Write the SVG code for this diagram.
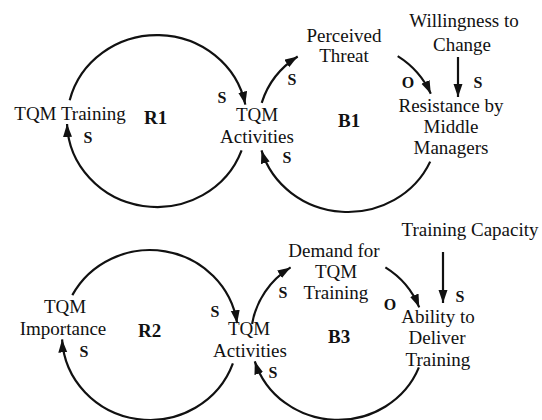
<svg xmlns="http://www.w3.org/2000/svg" width="542" height="420" viewBox="0 0 542 420">
<style>
text{font-family:"Liberation Serif","Times New Roman",serif;font-size:19px;fill:#111;text-anchor:middle}
.lp{font-weight:bold;text-anchor:start}
.sg{font-weight:bold;font-size:16px}
.c{fill:none;stroke:#111;stroke-width:2.2;marker-end:url(#ah)}
</style>
<defs>
<marker id="ah" markerUnits="userSpaceOnUse" markerWidth="14" markerHeight="10" refX="13" refY="4.5" orient="auto">
<path d="M0,0 L13,4.5 L0,9 z" fill="#111"/>
</marker>
</defs>
<rect width="542" height="420" fill="#fff"/>
<g id="connectors">
<path class="c" d="M69.7,100.2 A90 86 0 0 1 245.3,104.6"/>
<path class="c" d="M241.6,150.4 A90 86 0 0 1 67.05,124"/>
<path class="c" d="M261.7,102.9 A90 85 0 0 1 297.7,56.5"/>
<path class="c" d="M397.7,56.1 A90 85 0 0 1 430.8,93.8"/>
<path class="c" d="M430.2,161.6 A90 85 0 0 1 261.5,150.4"/>
<path class="c" d="M458,57 L458,97"/>
<path class="c" d="M72.3,295.1 A88 85 0 0 1 237.1,323.2"/>
<path class="c" d="M232.9,363.4 A88 85 0 0 1 62.1,339.4"/>
<path class="c" d="M252.1,324 A87 83 0 0 1 290.6,267.4"/>
<path class="c" d="M385.4,267.4 A87 83 0 0 1 419.2,307.3"/>
<path class="c" d="M418.9,367.4 A87 83 0 0 1 254.8,361.3"/>
<path class="c" d="M443,252 L443,303"/>
</g>
<g id="labels">
<text class="lp" x="144" y="124">R1</text>
<text class="lp" x="338" y="127">B1</text>
<text class="lp" x="138" y="337">R2</text>
<text class="lp" x="328" y="343">B3</text>
<text class="sg" x="222" y="103">S</text>
<text class="sg" x="88" y="143">S</text>
<text class="sg" x="292" y="85">S</text>
<text class="sg" x="287" y="163">S</text>
<text class="sg" x="408" y="88">O</text>
<text class="sg" x="478" y="88">S</text>
<text class="sg" x="215" y="317">S</text>
<text class="sg" x="84" y="357">S</text>
<text class="sg" x="283" y="298">S</text>
<text class="sg" x="273" y="378">S</text>
<text class="sg" x="390" y="310">O</text>
<text class="sg" x="460" y="302">S</text>
</g>
<g id="tqm-training"><text x="70" y="120">TQM Training</text></g>
<g id="tqm-activities-1"><text x="257" y="121">TQM</text><text x="257" y="143">Activities</text></g>
<g id="perceived-threat"><text x="344" y="42">Perceived</text><text x="344" y="62">Threat</text></g>
<g id="willingness"><text x="464" y="27">Willingness to</text><text x="462" y="51">Change</text></g>
<g id="resistance"><text x="451" y="112">Resistance by</text><text x="451" y="133">Middle</text><text x="451" y="154">Managers</text></g>
<g id="tqm-importance"><text x="65" y="313">TQM</text><text x="63" y="335">Importance</text></g>
<g id="tqm-activities-2"><text x="249" y="335">TQM</text><text x="250" y="357">Activities</text></g>
<g id="training-capacity"><text x="470" y="236">Training Capacity</text></g>
<g id="demand"><text x="334" y="257">Demand for</text><text x="336" y="278">TQM</text><text x="336" y="299">Training</text></g>
<g id="ability"><text x="438" y="323">Ability to</text><text x="437" y="344">Deliver</text><text x="438" y="366">Training</text></g>
</svg>
